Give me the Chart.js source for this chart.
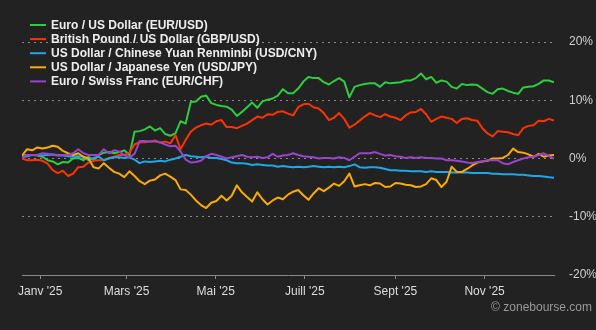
<!DOCTYPE html>
<html>
<head>
<meta charset="utf-8">
<script src="https://cdn.jsdelivr.net/npm/chart.js@4.4.1/dist/chart.umd.min.js"></script>
<style>
html, body { margin: 0; padding: 0; background: #222222; }
#wrap { position: relative; width: 596px; height: 330px; }
</style>
</head>
<body>
<div id="wrap"><canvas id="fxChart" width="596" height="330"></canvas></div>
<script>
// One year of currency performance, in % since the first day
const startDay = -12.5;   // 18 Dec 2024, counted in days from 1 Jan 2025
const stepDays = 3.5;

const seriesNames = [
  'Euro / US Dollar (EUR/USD)',
  'British Pound / US Dollar (GBP/USD)',
  'US Dollar / Chinese Yuan Renminbi (USD/CNY)',
  'US Dollar / Japanese Yen (USD/JPY)',
  'Euro / Swiss Franc (EUR/CHF)'
];

const eurUsd = [
  0.5, 0.6, 0.6, 0.5, 0.3, -0.3, -0.5, -1.0, -0.6, -0.7,
  0.0, 0.1, -0.3, 0.3, -0.3, 0.6, 1.0, 1.1, 0.9, 1.1,
  1.4, 0.6, 4.6, 4.7, 5.0, 5.5, 4.8, 5.2, 4.2, 3.9,
  4.3, 6.4, 6.0, 9.7, 9.8, 10.6, 10.8, 9.5, 9.2, 9.0,
  8.9, 8.4, 7.3, 8.0, 8.8, 9.6, 8.7, 9.8, 10.1, 10.3,
  10.8, 11.9, 11.2, 11.2, 12.0, 13.2, 14.0, 13.8, 13.8, 13.1,
  12.7, 13.3, 13.8, 13.2, 10.5, 12.3, 12.6, 12.8, 12.9, 12.9,
  12.3, 13.1, 12.9, 13.0, 13.1, 13.4, 13.4, 13.8, 14.6, 13.6,
  14.0, 13.0, 13.4, 13.2, 12.3, 12.0, 12.8, 12.6, 12.7, 12.6,
  12.0, 11.4, 11.1, 11.9, 12.0, 11.6, 11.3, 11.1, 12.2, 12.3,
  12.4, 12.8, 13.4, 13.4, 13.1
];

const gbpUsd = [
  0.0, -0.3, -0.3, -0.2, -0.4, -0.9, -2.0, -2.5, -2.1, -3.0,
  -2.6, -1.5, -1.4, -0.7, -0.4, -0.3, -0.3, 0.1, 0.3, 0.6,
  0.6, 1.0, 2.4, 2.8, 2.8, 2.9, 3.1, 2.7, 2.9, 2.6,
  4.0, 1.6, 3.2, 4.6, 5.3, 5.7, 6.0, 5.8, 6.4, 6.6,
  5.4, 5.4, 5.2, 5.6, 6.0, 6.6, 7.2, 7.0, 7.6, 7.5,
  8.0, 8.1, 7.7, 7.4, 8.8, 9.3, 9.4, 8.8, 8.6, 7.8,
  6.6, 7.0, 7.8, 6.8, 5.3, 5.8, 6.5, 7.2, 7.8, 7.4,
  7.1, 7.6, 7.2, 7.0, 6.6, 7.4, 7.9, 8.0, 8.5, 7.6,
  6.3, 6.8, 7.2, 7.0, 6.8, 6.1, 6.8, 6.9, 6.6, 6.5,
  5.2, 4.3, 3.8, 4.7, 4.6, 4.5, 4.2, 4.0, 5.2, 5.6,
  5.7, 6.5, 6.4, 6.8, 6.5
];

const usdCny = [
  0.2, 0.4, 0.6, 0.6, 0.5, 0.6, 0.7, 0.5, 0.5, 0.4,
  0.3, 0.4, 0.3, -0.3, 0.1, 0.3, -0.3, 0.0, 0.2, 0.2,
  0.1, 0.2, -0.2, -0.8, -0.5, -0.6, -0.5, -0.4, -0.5, -0.2,
  0.0, 0.3, 0.6, 0.4, 0.3, 0.2, 0.3, 0.1, 0.1, -0.1,
  -0.3, -0.7, -0.8, -0.8, -0.9, -1.1, -1.0, -1.1, -1.2, -1.2,
  -1.4, -1.3, -1.4, -1.5, -1.4, -1.5, -1.4, -1.3, -1.4, -1.5,
  -1.4, -1.5, -1.4, -1.5, -1.3, -1.0, -1.5, -1.6, -1.5, -1.5,
  -1.6, -1.8, -2.0, -2.0, -2.1, -2.1, -2.2, -2.2, -2.2, -2.3,
  -2.2, -2.3, -2.3, -2.3, -2.4, -2.4, -2.4, -2.4, -2.5, -2.5,
  -2.5, -2.5, -2.6, -2.6, -2.7, -2.7, -2.7, -2.8, -2.8, -2.9,
  -3.0, -3.0, -3.1, -3.2, -3.3
];

const usdJpy = [
  0.5, 1.6, 1.4, 1.9, 1.7, 1.9, 2.2, 2.0, 1.3, 0.9,
  0.6, 0.9, 0.3, 0.0, -1.5, -1.7, -0.8, -1.6, -2.3, -2.6,
  -3.2, -2.2, -3.0, -3.9, -4.4, -3.8, -3.6, -2.9, -2.6, -3.1,
  -3.7, -5.3, -5.4, -6.2, -7.2, -8.0, -8.5, -7.6, -7.3, -6.4,
  -7.2, -6.4, -4.6, -5.8, -6.6, -7.4, -5.8, -7.0, -7.9, -7.2,
  -6.7, -7.0, -6.2, -5.7, -5.4, -6.3, -7.1, -6.0, -5.1, -5.6,
  -5.0, -4.3, -4.7, -3.9, -2.6, -4.8, -4.6, -4.4, -4.6, -4.2,
  -4.3, -4.9, -4.8, -4.2, -4.3, -4.5, -4.6, -4.9, -4.8, -4.4,
  -3.4, -3.7, -4.9, -4.0, -1.4, -2.3, -2.3, -1.8, -1.2, -0.7,
  -0.5, -0.4, 0.0, 0.0, 0.1, 0.6, 1.7, 1.1, 1.0, 0.7,
  0.3, 0.8, 0.3, 0.5, 0.6
];

const eurChf = [
  0.2, 0.6, 0.6, 0.6, 0.9, 0.8, 0.7, 0.6, 0.6, 0.6,
  0.9, 1.6, 0.9, 0.6, 0.6, 0.6, 1.6, 0.9, 1.4, 1.2,
  0.6, 0.2, 0.8, 3.0, 3.0, 2.9, 2.9, 2.8, 2.4, 2.1,
  2.2, 1.2, -0.2, -0.7, -0.6, -0.4, 0.4, 0.8, 0.6, 0.3,
  0.0, 0.2, 0.4, 0.6, 0.3, 0.2, 0.3, 0.1, 0.2, 0.8,
  0.3, 0.5, 0.6, 0.9, 0.6, 0.4, 0.3, 0.2, 0.0, 0.1,
  0.1, 0.0, 0.2, 0.1, -0.3, 0.3, 0.9, 0.9, 0.9, 1.1,
  0.8, 0.5, 0.6, 0.4, 0.3, 0.1, 0.2, 0.1, 0.2, 0.1,
  0.1, 0.0, 0.0, -0.3, -0.3, -0.4, -0.5, -0.7, -0.8, -0.6,
  -0.5, -0.3, -0.3, -0.3, -0.8, -1.0, -0.6, -0.3, 0.0, 0.2,
  0.3, 0.6, 0.9, 0.4, 0.0
];

// month starts (days from 1 Jan 2025) and their labels
const monthDays = [0, 59, 120, 181, 243, 304];
const monthLabels = ["Janv '25", "Mars '25", "Mai '25", "Juill '25", "Sept '25", "Nov '25"];
const yTickValues = [-20, -10, 0, 10, 20];

const allSeries = [eurUsd, gbpUsd, usdCny, usdJpy, eurChf];
const lineColors = ['#2ecc40', '#ff3300', '#1ea8ea', '#ffaa00', '#9a44cc'];
const FONT = '"Liberation Sans", Arial, sans-serif';

function toPoints(values) {
  return values.map((v, i) => ({ x: startDay + i * stepDays, y: v }));
}

const datasets = allSeries.map((values, k) => ({
  label: seriesNames[k],
  data: toPoints(values),
  borderColor: lineColors[k],
  borderWidth: 2,
  pointRadius: 0,
  tension: 0,
  fill: false,
  borderJoinStyle: 'round',
  order: allSeries.length - k   // later series sit on top
}));

// legend lines drawn over the plot, plus the source credit
const overlay = {
  id: 'overlay',
  afterDraw(chart) {
    const ctx = chart.ctx;
    ctx.save();
    ctx.font = 'bold 12px ' + FONT;
    ctx.textBaseline = 'middle';
    ctx.textAlign = 'left';
    seriesNames.forEach((name, k) => {
      const y = 25 + k * 14.1;
      ctx.strokeStyle = lineColors[k];
      ctx.lineWidth = 2;
      ctx.beginPath();
      ctx.moveTo(30, y);
      ctx.lineTo(46, y);
      ctx.stroke();
      ctx.fillStyle = '#eeeeee';
      ctx.fillText(name, 51, y + 0.5);
    });
    ctx.font = '12px ' + FONT;
    ctx.fillStyle = '#9a9a9a';
    ctx.textAlign = 'right';
    ctx.fillText('\u00a9 zonebourse.com', 592, 308);
    ctx.restore();
  }
};

new Chart(document.getElementById('fxChart'), {
  type: 'line',
  data: { datasets },
  plugins: [overlay],
  options: {
    responsive: false,
    animation: false,
    devicePixelRatio: 1,
    layout: { padding: { top: 42, left: 22, right: 0, bottom: 0 } },
    plugins: { legend: { display: false }, tooltip: { enabled: false } },
    scales: {
      x: {
        type: 'linear',
        min: startDay,
        max: startDay + (eurUsd.length - 1) * stepDays,
        afterBuildTicks: (scale) => { scale.ticks = monthDays.map(v => ({ value: v })); },
        afterFit: (scale) => { scale.height = 55; },
        ticks: {
          callback: (v, i) => monthLabels[i],
          autoSkip: false,
          maxRotation: 0,
          color: '#dddddd',
          font: { family: FONT, size: 12 },
          padding: 5
        },
        grid: { drawOnChartArea: false, drawTicks: true, tickLength: 4, color: '#8a8a8a' },
        border: { display: true, color: '#8a8a8a', width: 1 }
      },
      y: {
        position: 'right',
        min: -20,
        max: 20,
        afterBuildTicks: (scale) => { scale.ticks = yTickValues.map(v => ({ value: v })); },
        afterFit: (scale) => { scale.width = 42; },
        ticks: {
          callback: (v) => v + '%',
          color: '#d0d0d0',
          font: { family: FONT, size: 12 },
          padding: 15
        },
        grid: {
          drawTicks: false,
          lineWidth: 1,
          color: (c) => (c.tick && c.tick.value === -20 ? 'rgba(0,0,0,0)' : '#8a8a8a')
        },
        border: { display: false, dash: [2, 4] }
      }
    }
  }
});
</script>
</body>
</html>
